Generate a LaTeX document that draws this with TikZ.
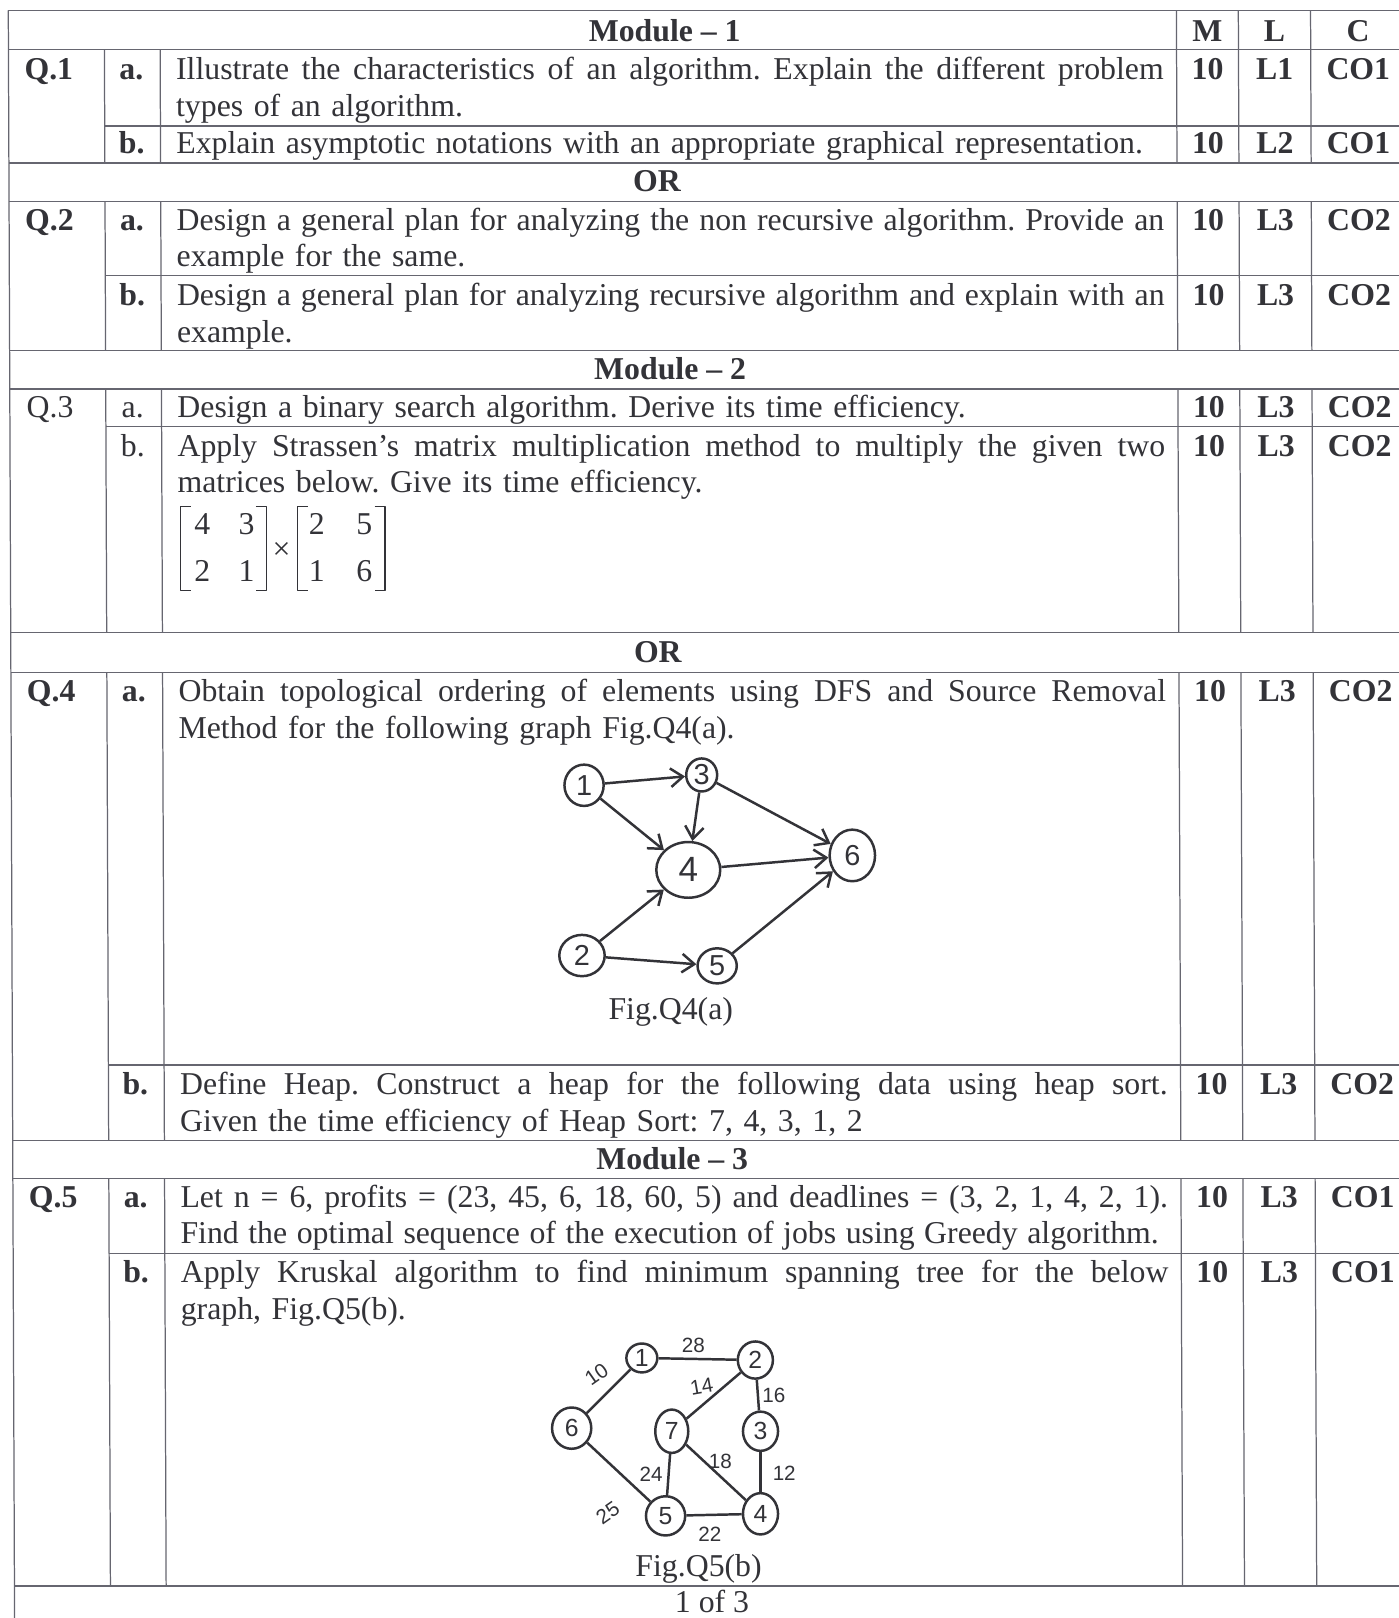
\documentclass[tikz,border=0pt]{standalone}
\usepackage{fontspec}
\setmainfont{Liberation Serif}
\setsansfont{Liberation Sans}
\usetikzlibrary{shapes.geometric,arrows.meta}
\definecolor{ink}{rgb}{0.2,0.2,0.22}
\definecolor{rulecol}{rgb}{0.4,0.4,0.44}
\newcommand\qfont{\fontsize{15.4}{17.75}\selectfont\frenchspacing\hyphenpenalty=10000\exhyphenpenalty=10000}
\newcommand\jline[2][478.5pt]{\hbox to #1{\spaceskip=0.25em plus 1em minus 0.08em\relax #2}}
\begin{document}
\begin{tikzpicture}[x=0.5pt,y=-0.5pt,>={Straight Barb[length=6pt,width=9pt]},line join=bevel,
  qtext/.style={anchor=base west,inner sep=0pt,text width=490pt,align=left,font=\qfont,text=ink},
  qlab/.style={anchor=base,inner sep=0pt,font=\qfont\bfseries,text=ink},
  qplain/.style={anchor=base,inner sep=0pt,font=\qfont,text=ink},
  tabrule/.style={draw=rulecol,line width=0.6pt},
  vert/.style={ellipse,draw=ink,line width=1.2pt,inner sep=0pt,font=\sffamily\fontsize{12}{12}\selectfont,text=ink},
  wt/.style={inner sep=0pt,font=\sffamily\fontsize{10}{10}\selectfont,text=ink},
  hand/.style={draw=ink,line width=1.2pt}]
\useasboundingbox (0,0) rectangle (1355,1568);
\fill[white] (0,0) rectangle (1355,1568);
%%
\begin{scope}[xslant=-0.0039]
  % Rules
  \foreach \y in {10,48,158,195,340,377,613,652,1105,1142}
    \draw[tabrule] (8,\y) -- (1362,\y);
  \foreach \y in {122,267,413,1032,1215}
    \draw[tabrule] (101,\y) -- (1362,\y);
  \draw[tabrule,line width=1.1pt] (8,1537) -- (1362,1537);
  \draw[tabrule] (8,10) -- (8,1600);
  \draw[tabrule] (1362,10) -- (1362,1600);
  \foreach \ya/\yb in {48/158,195/340,377/613,652/1105,1142/1537} {
    \draw[tabrule] (101,\ya) -- (101,\yb);
    \draw[tabrule] (155,\ya) -- (155,\yb);
  }
  \foreach \ya/\yb in {10/158,195/340,377/613,652/1105,1142/1537} {
    \draw[tabrule] (1140,\ya) -- (1140,\yb);
    \draw[tabrule] (1200,\ya) -- (1200,\yb);
    \draw[tabrule] (1270,\ya) -- (1270,\yb);
  }
  % Row: Module 1
  \node[qlab] (mod1) at (644,40) {Module -- 1};
  \node[qlab] (hM) at (1170,40) {M};
  \node[qlab] (hL) at (1235,40) {L};
  \node[qlab] (hC) at (1316,40) {C};
  % Row: Q.1
  \node[qlab] (q1) at (47,77) {Q.1};
  \node[qlab] (q1a) at (127,77) {a.};
  \node[qtext] (t1a) at (170,77) {\jline{Illustrate the characteristics of an algorithm. Explain the different problem}\\types of an algorithm.};
  \node[qlab] (m1a) at (1170,77) {10};
  \node[qlab] (l1a) at (1235,77) {L1};
  \node[qlab] (c1a) at (1316,77) {CO1};
  \node[qlab] (q1b) at (127,149) {b.};
  \node[qtext] (t1b) at (170,149) {Explain asymptotic notations with an appropriate graphical representation.};
  \node[qlab] (m1b) at (1170,149) {10};
  \node[qlab] (l1b) at (1235,149) {L2};
  \node[qlab] (c1b) at (1316,149) {CO1};
  \node[qlab] (or1) at (636,186) {OR};
  % Row: Q.2
  \node[qlab] (q2) at (47,223) {Q.2};
  \node[qlab] (q2a) at (127,223) {a.};
  \node[qtext] (t2a) at (170,223) {\jline{Design a general plan for analyzing the non recursive algorithm. Provide an}\\example for the same.};
  \node[qlab] (m2a) at (1170,223) {10};
  \node[qlab] (l2a) at (1235,223) {L3};
  \node[qlab] (c2a) at (1316,223) {CO2};
  \node[qlab] (q2b) at (127,296) {b.};
  \node[qtext] (t2b) at (170,296) {\jline{Design a general plan for analyzing recursive algorithm and explain with an}\\example.};
  \node[qlab] (m2b) at (1170,296) {10};
  \node[qlab] (l2b) at (1235,296) {L3};
  \node[qlab] (c2b) at (1316,296) {CO2};
  % Row: Module 2
  \node[qlab] (mod2) at (648,368) {Module -- 2};
  % Row: Q.3
  \node[qplain] (q3) at (47,405) {Q.3};
  \node[qplain] (q3a) at (127,405) {a.};
  \node[qtext] (t3a) at (170,405) {Design a binary search algorithm. Derive its time efficiency.};
  \node[qlab] (m3a) at (1170,405) {10};
  \node[qlab] (l3a) at (1235,405) {L3};
  \node[qlab] (c3a) at (1316,405) {CO2};
  \node[qplain] (q3b) at (127,442) {b.};
  \node[qtext] (t3b) at (170,442) {\jline{Apply Strassen’s matrix multiplication method to multiply the given two}\\matrices below. Give its time efficiency.};
  \node[qlab] (m3b) at (1170,442) {10};
  \node[qlab] (l3b) at (1235,442) {L3};
  \node[qlab] (c3b) at (1316,442) {CO2};
  \node[qlab] (or2) at (635,642) {OR};
  % Row: Q.4
  \node[qlab] (q4) at (47,680) {Q.4};
  \node[qlab] (q4a) at (127,680) {a.};
  \node[qtext] (t4a) at (170,680) {\jline{Obtain topological ordering of elements using DFS and Source Removal}\\Method for the following graph Fig.Q4(a).};
  \node[qlab] (m4a) at (1170,680) {10};
  \node[qlab] (l4a) at (1235,680) {L3};
  \node[qlab] (c4a) at (1316,680) {CO2};
  \node[qlab] (q4b) at (127,1061) {b.};
  \node[qtext] (t4b) at (170,1061) {\jline{Define Heap. Construct a heap for the following data using heap sort.}\\Given the time efficiency of Heap Sort: 7, 4, 3, 1, 2};
  \node[qlab] (m4b) at (1170,1061) {10};
  \node[qlab] (l4b) at (1235,1061) {L3};
  \node[qlab] (c4b) at (1316,1061) {CO2};
  % Row: Module 3
  \node[qlab] (mod3) at (647,1133) {Module -- 3};
  % Row: Q.5
  \node[qlab] (q5) at (47,1170) {Q.5};
  \node[qlab] (q5a) at (127,1170) {a.};
  \node[qtext] (t5a) at (170,1170) {\jline{Let n = 6, profits = (23, 45, 6, 18, 60, 5) and deadlines = (3, 2, 1, 4, 2, 1).}\\\jline[474pt]{Find the optimal sequence of the execution of jobs using Greedy algorithm.}};
  \node[qlab] (m5a) at (1170,1170) {10};
  \node[qlab] (l5a) at (1235,1170) {L3};
  \node[qlab] (c5a) at (1316,1170) {CO1};
  \node[qlab] (q5b) at (127,1243) {b.};
  \node[qtext] (t5b) at (170,1243) {\jline{Apply Kruskal algorithm to find minimum spanning tree for the below}\\graph, Fig.Q5(b).};
  \node[qlab] (m5b) at (1170,1243) {10};
  \node[qlab] (l5b) at (1235,1243) {L3};
  \node[qlab] (c5b) at (1316,1243) {CO1};
\end{scope}
%%
% Matrices
\draw[ink,line width=0.6pt] (185,491) -- (175,491) -- (175,572) -- (185,572);
\draw[ink,line width=0.6pt] (248,491) -- (258,491) -- (258,572) -- (248,572);
\draw[ink,line width=0.6pt] (298,491) -- (288,491) -- (288,572) -- (298,572);
\draw[ink,line width=0.6pt] (363,491) -- (373,491) -- (373,572) -- (363,572);
\node[qplain] (a11) at (196,518) {4};
\node[qplain] (a12) at (239,518) {3};
\node[qplain] (a21) at (196,564) {2};
\node[qplain] (a22) at (239,564) {1};
\node[inner sep=0pt,font=\qfont,text=ink] (times) at (273,534) {×};
\node[qplain] (b11) at (307,518) {2};
\node[qplain] (b12) at (353,518) {5};
\node[qplain] (b21) at (307,564) {1};
\node[qplain] (b22) at (353,564) {6};
%%
% Graph Fig.Q4(a)
\begin{scope}[vert/.append style={font=\sffamily\fontsize{14}{14}\selectfont}]
% Node: 1
\node[vert,minimum width=19pt,minimum height=20pt] (g1) at (566,761) {1};
% Node: 3
\node[vert,minimum width=15pt,minimum height=16pt] (g3) at (680,751) {3};
% Node: 4
\node[vert,minimum width=31pt,minimum height=27pt,font=\sffamily\fontsize{17}{17}\selectfont] (g4) at (667,843) {4};
% Node: 6
\node[vert,minimum width=22pt,minimum height=25pt] (g6) at (826,829) {6};
% Node: 2
\node[vert,minimum width=22pt,minimum height=20pt] (g2) at (564,926) {2};
% Node: 5
\node[vert,minimum width=19pt,minimum height=17pt] (g5) at (695,936) {5};
\end{scope}
% Edges
\draw[hand,->] (g1) -- (g3);
\draw[hand,->] (g1) -- (g4);
\draw[hand,->] (g3) -- (g4);
\draw[hand,->] (g3) -- (g6);
\draw[hand,->] (g4) -- (g6);
\draw[hand,->] (g2) -- (g4);
\draw[hand,->] (g2) -- (g5);
\draw[hand,->] (g5) -- (g6);
\node[qplain] (figa) at (650,988) {Fig.Q4(a)};
%%
% Graph Fig.Q5(b)
% Node: 1
\node[vert,minimum width=15pt,minimum height=14pt] (k1) at (622,1316) {1};
% Node: 2
\node[vert,minimum width=17pt,minimum height=18pt] (k2) at (732,1318) {2};
% Node: 6
\node[vert,minimum width=19pt,minimum height=20pt] (k6) at (554,1384) {6};
% Node: 7
\node[vert,minimum width=16pt,minimum height=21pt] (k7) at (651,1387) {7};
% Node: 3
\node[vert,minimum width=17pt,minimum height=19pt] (k3) at (737,1387) {3};
% Node: 5
\node[vert,minimum width=19pt,minimum height=19pt] (k5) at (645,1469) {5};
% Node: 4
\node[vert,minimum width=17pt,minimum height=20pt] (k4) at (737,1467) {4};
% Edge: 1 -- 2
\draw[hand] (k1) -- (k2);
\node[wt] (w12) at (672,1304) {28};
% Edge: 1 -- 6
\draw[hand] (k1) -- (k6);
\node[wt,rotate=35] (w16) at (578,1332) {10};
% Edge: 2 -- 7
\draw[hand] (k2) -- (k7);
\node[wt,rotate=10] (w27) at (680,1344) {14};
% Edge: 2 -- 3
\draw[hand] (k2) -- (k3);
\node[wt] (w23) at (750,1352) {16};
% Edge: 7 -- 4
\draw[hand] (k7) -- (k4);
\node[wt] (w74) at (698,1416) {18};
% Edge: 7 -- 5
\draw[hand] (k7) -- (k5);
\node[wt] (w75) at (631,1429) {24};
% Edge: 3 -- 4
\draw[hand] (k3) -- (k4);
\node[wt] (w34) at (760,1428) {12};
% Edge: 6 -- 5
\draw[hand] (k6) -- (k5);
\node[wt,rotate=35] (w65) at (589,1466) {25};
% Edge: 5 -- 4
\draw[hand] (k5) -- (k4);
\node[wt] (w54) at (688,1487) {22};
\node[qplain] (figb) at (677,1528) {Fig.Q5(b)};
%
\node[qplain] (page) at (690,1563) {1 of 3};
\end{tikzpicture}
\end{document}
